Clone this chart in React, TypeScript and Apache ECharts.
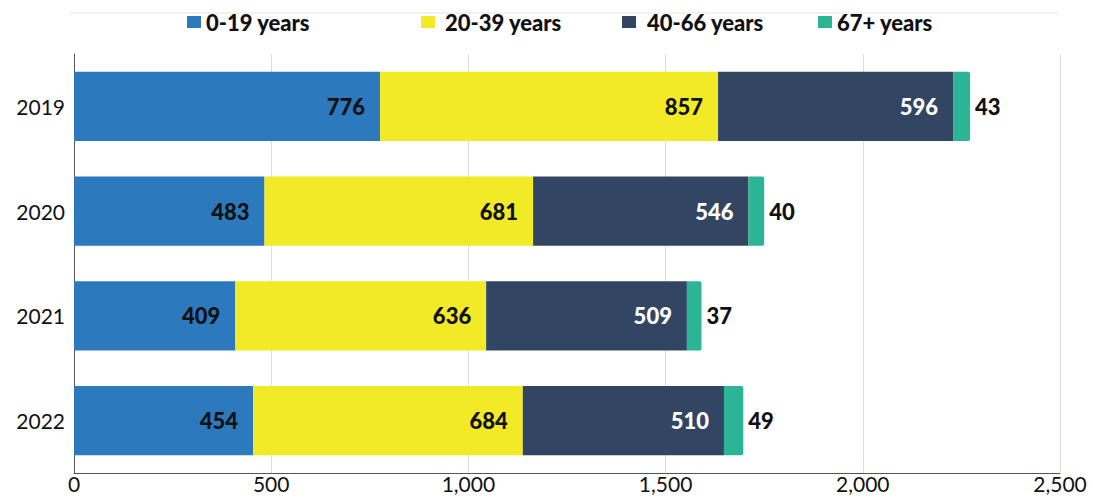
import React, { useEffect, useRef } from "react";
import * as echarts from "echarts";

const years = ["2019", "2020", "2021", "2022"];
const age0to19 = [776, 483, 409, 454];
const age20to39 = [857, 681, 636, 684];
const age40to66 = [596, 546, 509, 510];
const age67plus = [43, 40, 37, 49];
const seriesNames = ["0-19 years", "20-39 years", "40-66 years", "67+ years"];
const xTicks = { min: 0, max: 2500, interval: 500 };

const COLORS = ["#2C79BD", "#F3EA27", "#324664", "#2BB594"];
const FONT = "Lato, 'Open Sans', sans-serif";

export default function App() {
  const ref = useRef<HTMLDivElement>(null);
  useEffect(() => {
    document.body.style.margin = "0";
    const chart = echarts.init(ref.current!, null, { renderer: "svg" });
    const labelBase = {
      show: true,
      position: "insideRight" as const,
      distance: 15,
      fontFamily: FONT,
      fontWeight: 900,
      fontSize: 22,
      color: "#111",
    };
    const barBase = {
      type: "bar" as const,
      stack: "total",
      barCategoryGap: "34%",
    };
    const legendLefts = [187, 421, 622, 818];
    const legendPads = [[0, 0, 0, 0], [0, 0, 0, 5], [0, 0, 0, 6], [0, 0, 0, 0]];
    chart.setOption({
      animation: false,
      textStyle: { fontFamily: FONT },
      legend: seriesNames.map((n, i) => ({
        data: [n],
        left: legendLefts[i],
        top: 10,
        padding: 0,
        itemWidth: 14,
        itemHeight: 12,
        icon: "rect",
        textStyle: {
          fontFamily: FONT,
          fontWeight: 900,
          fontSize: 22,
          color: "#111",
          lineHeight: 24,
          padding: legendPads[i],
        },
      })),
      graphic: [
        {
          type: "line",
          shape: { x1: 70, y1: 13, x2: 1058, y2: 13 },
          style: { stroke: "#e4e4e4", lineWidth: 1 },
          silent: true,
          z: -1,
        },
      ],
      grid: { left: 74, right: 33, top: 54, bottom: 26, containLabel: false },
      xAxis: {
        type: "value",
        min: xTicks.min,
        max: xTicks.max,
        interval: xTicks.interval,
        axisLine: { show: true, lineStyle: { color: "#555", width: 1 } },
        axisTick: { show: false },
        splitLine: { show: true, lineStyle: { color: "#dcdcdc", width: 1 } },
        axisLabel: {
          fontFamily: FONT,
          fontSize: 21,
          color: "#111",
          margin: 0,
          formatter: (v: number) => v.toLocaleString("en-US"),
        },
      },
      yAxis: {
        type: "category",
        data: years,
        inverse: true,
        axisLine: { show: true, lineStyle: { color: "#555", width: 1 } },
        axisTick: { show: false },
        axisLabel: { fontFamily: FONT, fontSize: 21, color: "#111", margin: 9 },
      },
      series: [
        { ...barBase, name: seriesNames[0], data: age0to19, itemStyle: { color: COLORS[0] }, label: labelBase },
        { ...barBase, name: seriesNames[1], data: age20to39, itemStyle: { color: COLORS[1] }, label: labelBase },
        { ...barBase, name: seriesNames[2], data: age40to66, itemStyle: { color: COLORS[2] }, label: { ...labelBase, color: "#fff" } },
        {
          ...barBase,
          name: seriesNames[3],
          data: age67plus,
          itemStyle: { color: COLORS[3], borderRadius: [0, 2, 2, 0] },
          label: { ...labelBase, position: "right", distance: 5 },
        },
      ],
    });
    return () => chart.dispose();
  }, []);
  return <div ref={ref} style={{ width: 1093, height: 499 }} />;
}
